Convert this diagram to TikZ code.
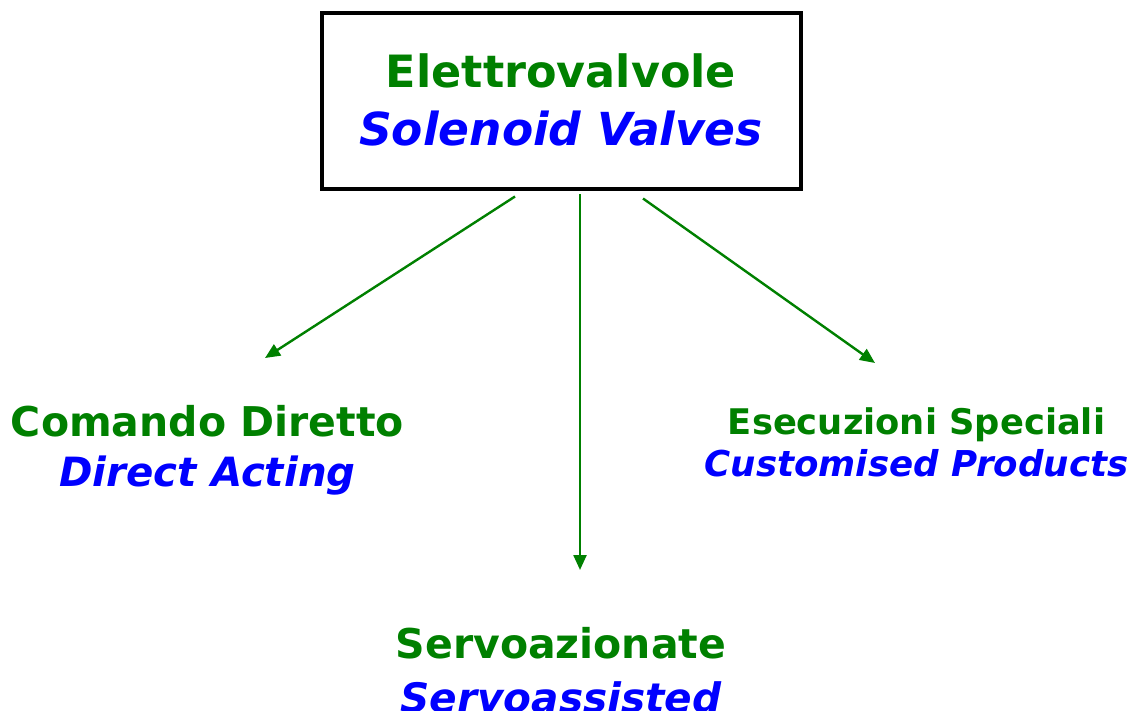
\documentclass[tikz,border=0pt]{standalone}
\usepackage{fontspec}
\setmainfont{DejaVu Sans}
\usepackage{tikz}
\usetikzlibrary{arrows.meta}
\usetikzlibrary{positioning}
\definecolor{vgreen}{RGB}{0,128,0}
\definecolor{vblue}{RGB}{0,0,255}
% one line of text at a given size
\newcommand{\ita}[2]{{\fontsize{#1}{#1}\selectfont #2}}
\newcommand{\eng}[2]{\textcolor{vblue}{\fontsize{#1}{#1}\selectfont\itshape #2}}
\begin{document}
\begin{tikzpicture}[x=1pt,y=-1pt,
    label/.style={align=center, inner sep=0pt, text=vgreen, font=\bfseries},
    branch/.style={draw=vgreen, line width=2.4pt, -{Triangle[length=15pt,width=13pt]}}]
        \useasboundingbox (0,0) rectangle (1132,711);
        \node[draw, line width=4pt, minimum width=479pt, minimum height=176pt,
              label, font=\fontsize{44}{58}\selectfont\bfseries] (sv) at (561,101.5)
              {\raisebox{3pt}{\ita{44.5}{Elettrovalvole}}\\ \raisebox{3pt}{\eng{45.5}{Solenoid Valves}}};
        \node[label, anchor=north, font=\fontsize{41}{54}\selectfont\bfseries,
              below=436pt of sv] (sa) {\ita{41}{Servoazionate}\\ \eng{40.6}{Servoassisted}};
        \node[label, anchor=north, font=\fontsize{41}{50}\selectfont\bfseries] (cd) at (207.5,405.5)
              {\ita{41}{Comando Diretto}\\ \eng{40.3}{Direct Acting}};
        \node[label, anchor=north, font=\fontsize{35}{42}\selectfont\bfseries] (es) at (916.5,407)
              {\ita{35.3}{Esecuzioni Speciali}\\ \eng{35.6}{Customised Products}};

        \coordinate (cdtip) at (265,358);
        \coordinate (satip) at (580,570);
        \coordinate (estip) at (875,363);

        % arrows out of the box
        \draw[branch] ([xshift=-46pt,yshift=-5pt]sv.south) -- (cdtip);
        \draw[branch] ([xshift=19pt,yshift=-3pt]sv.south) -- (satip);
        \draw[branch] ([xshift=82pt,yshift=-7pt]sv.south) -- (estip);
\end{tikzpicture}
\end{document}
